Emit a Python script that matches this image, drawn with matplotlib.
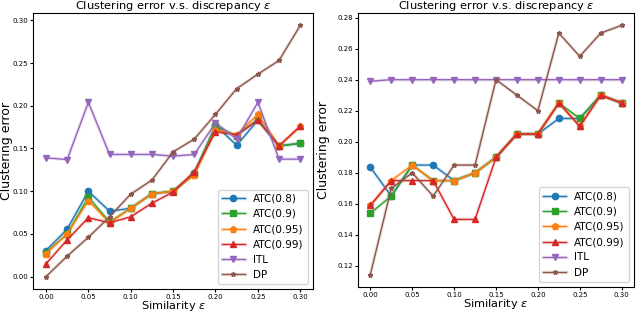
import matplotlib
matplotlib.use('Agg')
import matplotlib.pyplot as plt

# x 轴：相似度 epsilon
eps = [0.0, 0.025, 0.05, 0.075, 0.1, 0.125, 0.15, 0.175, 0.2, 0.225, 0.25, 0.275, 0.3]

# 左图
left_atc08 = [0.0305, 0.0556, 0.100, 0.0765, 0.080, 0.097, 0.100, 0.121, 0.177, 0.1537, 0.183, 0.153, 0.156]
left_atc09 = [0.028, 0.050, 0.093, 0.064, 0.080, 0.097, 0.100, 0.120, 0.176, 0.165, 0.184, 0.153, 0.156]
left_atc095 = [0.027, 0.050, 0.089, 0.063, 0.080, 0.097, 0.100, 0.119, 0.172, 0.166, 0.190, 0.153, 0.176]
left_atc099 = [0.015, 0.043, 0.069, 0.063, 0.070, 0.086, 0.099, 0.123, 0.1695, 0.166, 0.183, 0.153, 0.176]
left_itl = [0.139, 0.137, 0.204, 0.143, 0.143, 0.143, 0.141, 0.143, 0.180, 0.161, 0.204, 0.1375, 0.1375]
left_dp = [0.000, 0.024, 0.046, 0.070, 0.0966, 0.113, 0.146, 0.161, 0.190, 0.220, 0.237, 0.253, 0.294]

# 右图
right_atc08 = [0.1836, 0.165, 0.185, 0.185, 0.175, 0.180, 0.190, 0.205, 0.205, 0.215, 0.215, 0.230, 0.225]
right_atc09 = [0.154, 0.165, 0.185, 0.175, 0.175, 0.180, 0.190, 0.205, 0.205, 0.225, 0.215, 0.230, 0.225]
right_atc095 = [0.159, 0.175, 0.185, 0.175, 0.175, 0.180, 0.190, 0.205, 0.205, 0.225, 0.210, 0.230, 0.225]
right_atc099 = [0.159, 0.175, 0.175, 0.175, 0.150, 0.150, 0.190, 0.205, 0.205, 0.225, 0.210, 0.230, 0.225]
right_itl = [0.239, 0.240, 0.240, 0.240, 0.240, 0.240, 0.240, 0.240, 0.240, 0.240, 0.240, 0.240, 0.240]
right_dp = [0.1145, 0.170, 0.180, 0.165, 0.185, 0.185, 0.240, 0.230, 0.220, 0.270, 0.255, 0.270, 0.275]

labels = ['ATC(0.8)', 'ATC(0.9)', 'ATC(0.95)', 'ATC(0.99)', 'ITL', 'DP']
colors = ['tab:blue', 'tab:green', 'tab:orange', 'tab:red', 'tab:purple', 'tab:brown']
markers = ['o', 's', 'p', '^', 'v', '*']

fig = plt.figure(figsize=(6.4, 3.14), dpi=100)
ax1 = fig.add_axes([0.052, 0.079, 0.437, 0.880])
ax2 = fig.add_axes([0.559, 0.086, 0.432, 0.873])


def draw_panel(ax, series, ylabel_x):
    handles = []
    for ys, lab, c, m in zip(series, labels, colors, markers):
        band, = ax.plot(eps, ys, color=c, lw=2.5, alpha=0.18)
        ms = 3.5 if m == '*' else 4.5
        line, = ax.plot(eps, ys, color=c, lw=1, marker=m, markersize=ms)
        handles.append((band, line))
    ax.legend(handles, labels, loc='lower right', fontsize=7.5, handlelength=2.2)
    ax.set_title('Clustering error v.s. discrepancy $\\epsilon$', fontsize=8.2, pad=2)
    ax.set_xlabel('Similarity $\\epsilon$', fontsize=8.2, labelpad=-0.5)
    ax.set_ylabel('Clustering error', fontsize=9)
    ax.yaxis.set_label_coords(ylabel_x, 0.5)
    ax.tick_params(labelsize=5, length=2, pad=1.5)
    ax.set_xticks([0.0, 0.05, 0.1, 0.15, 0.2, 0.25, 0.3])


draw_panel(ax1, [left_atc08, left_atc09, left_atc095, left_atc099, left_itl, left_dp], -0.072)
draw_panel(ax2, [right_atc08, right_atc09, right_atc095, right_atc099, right_itl, right_dp], -0.1)

fig.savefig('out.png', dpi=100)
